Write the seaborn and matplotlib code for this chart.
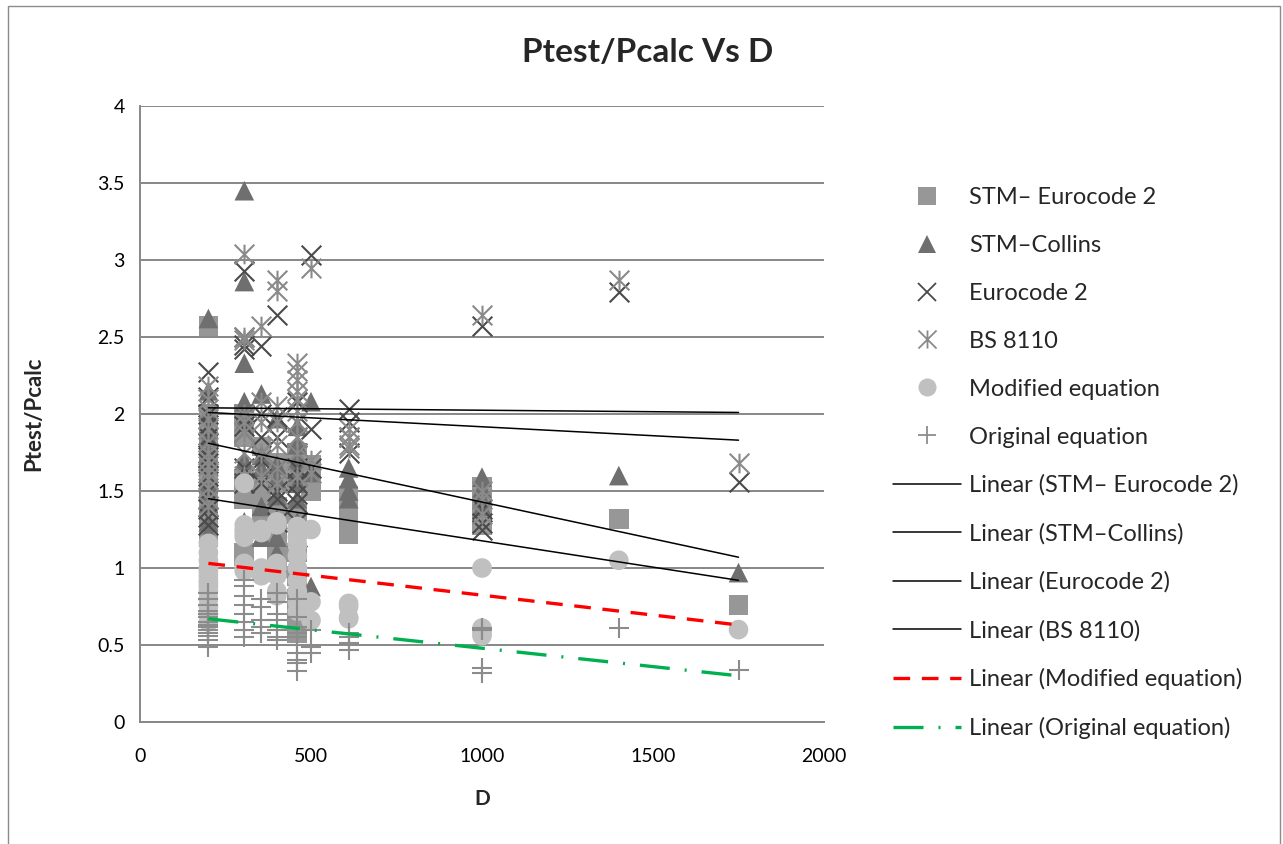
import numpy as np
import pandas as pd
import matplotlib.pyplot as plt
import seaborn as sns
from matplotlib.path import Path
from matplotlib.lines import Line2D
from matplotlib.patches import Rectangle

sns.set_theme(style="white")
plt.rcParams['font.family'] = ['Lato', 'DejaVu Sans']

# specimen depths D (shared x values for every method)
D = ([200] * 14 + [305] * 8 + [355] * 5 + [400] * 7 + [460] * 10
     + [500] * 3 + [610] * 4 + [1000] * 4 + [1400] + [1750])

stm_ec2 = [2.57, 2.0, 1.9, 1.8, 1.7, 1.62, 1.55, 1.48, 1.45, 1.38, 1.3, 1.25, 1.6, 1.2,
           1.58, 1.10, 1.52, 1.08, 2.0, 1.9, 1.85, 1.45,
           1.79, 1.45, 1.35, 1.52, 1.31,
           1.15, 1.28, 1.55, 1.4, 1.68, 1.0, 1.1,
           1.75, 1.65, 1.55, 1.35, 1.1, 0.95, 0.8, 0.7, 0.63, 0.58,
           1.67, 1.6, 1.5,
           1.47, 1.38, 1.3, 1.22,
           1.53, 1.45, 1.35, 1.28,
           1.32, 0.76]

stm_collins = [2.62, 2.15, 2.0, 1.9, 1.85, 1.75, 1.68, 1.6, 1.5, 1.42, 1.3, 1.23, 1.2, 1.55,
               3.45, 2.86, 2.33, 2.08, 2.0, 1.95, 1.3, 1.7,
               2.13, 1.73, 1.65, 1.4, 1.2,
               1.97, 1.67, 1.47, 1.58, 1.2, 1.32, 1.1,
               1.92, 1.8, 1.7, 1.62, 1.55, 1.45, 1.3, 1.15, 1.0, 0.9,
               2.08, 0.88, 1.62,
               1.65, 1.58, 1.5, 1.45,
               1.59, 1.52, 1.45, 1.4,
               1.60, 0.97]

eurocode2 = [2.27, 2.11, 2.0, 1.93, 1.85, 1.75, 1.68, 1.6, 1.5, 1.45, 1.38, 1.33, 1.28, 1.72,
             2.93, 2.5, 2.45, 2.42, 1.92, 1.88, 1.65, 1.55,
             2.44, 2.0, 1.85, 1.7, 1.55,
             2.64, 1.98, 1.85, 1.65, 1.5, 1.45, 1.3,
             2.08, 1.95, 1.85, 1.75, 1.65, 1.55, 1.48, 1.42, 1.3, 1.2,
             3.03, 1.65, 1.9,
             2.03, 1.95, 1.85, 1.75,
             2.57, 1.38, 1.29, 1.25,
             2.79, 1.56]

bs8110 = [2.18, 2.1, 2.03, 1.97, 1.9, 1.82, 1.75, 1.66, 1.58, 1.52, 1.45, 1.4, 1.62, 1.7,
          3.04, 2.5, 2.48, 2.0, 1.95, 1.88, 1.75, 1.6,
          2.57, 2.08, 1.95, 1.75, 1.6,
          2.87, 2.8, 2.05, 1.95, 1.8, 1.65, 1.55,
          2.33, 2.28, 2.22, 2.15, 2.1, 2.02, 1.95, 1.85, 1.75, 1.6,
          2.95, 1.62, 1.7,
          1.85, 1.8, 1.78, 1.9,
          2.64, 1.5, 1.45, 1.35,
          2.87, 1.68]

modified = [1.16, 1.1, 1.05, 1.0, 0.95, 0.92, 0.88, 0.85, 0.8, 0.75, 0.7, 0.65, 0.98, 0.9,
            1.55, 1.28, 1.2, 1.03, 1.0, 0.98, 1.22, 1.25,
            1.23, 0.97, 1.25, 0.95, 1.0,
            1.3, 1.28, 1.0, 0.95, 0.82, 0.85, 1.03,
            1.27, 1.2, 1.15, 1.08, 1.0, 0.92, 0.85, 0.78, 0.72, 1.25,
            1.25, 0.66, 0.78,
            0.77, 0.68, 0.75, 0.67,
            1.0, 0.61, 0.56, 0.58,
            1.05, 0.60]

original = [0.84, 0.8, 0.76, 0.72, 0.68, 0.65, 0.63, 0.6, 0.58, 0.56, 0.53, 0.49, 0.7, 0.62,
            0.92, 0.76, 0.55, 0.88, 0.7, 0.65, 0.6, 0.82,
            0.8, 0.62, 0.58, 0.75, 0.66,
            0.84, 0.66, 0.6, 0.53, 0.55, 0.7, 0.78,
            0.8, 0.68, 0.62, 0.58, 0.55, 0.5, 0.45, 0.4, 0.33, 0.38,
            0.45, 0.49, 0.6,
            0.51, 0.47, 0.55, 0.58,
            0.61, 0.35, 0.32, 0.6,
            0.61, 0.34]

# linear trendlines: value at D=200 and D=1750
trend_names = ["STM– Eurocode 2", "STM–Collins", "Eurocode 2", "BS 8110",
               "Modified equation", "Original equation"]
trend_start = [1.45, 1.81, 2.01, 2.04, 1.03, 0.67]
trend_end = [0.92, 1.07, 1.83, 2.01, 0.63, 0.30]

df = pd.DataFrame({"D": D, "STM– Eurocode 2": stm_ec2, "STM–Collins": stm_collins,
                   "Eurocode 2": eurocode2, "BS 8110": bs8110,
                   "Modified equation": modified, "Original equation": original})

# Excel-style asterisk: an X with a vertical bar through it
asterisk = Path([(-1, -1), (1, 1), (-1, 1), (1, -1), (0, -1), (0, 1)],
                [Path.MOVETO, Path.LINETO, Path.MOVETO, Path.LINETO, Path.MOVETO, Path.LINETO])

styles = {
    "STM– Eurocode 2": dict(marker="s", color="#979797", filled=True),
    "STM–Collins": dict(marker="^", color="#6f6f6f", filled=True),
    "Eurocode 2": dict(marker="x", color="#4a4a4a", filled=False),
    "BS 8110": dict(marker=asterisk, color="#8a8a8a", filled=False),
    "Modified equation": dict(marker="o", color="#c0c0c0", filled=True),
    "Original equation": dict(marker="+", color="#8c8c8c", filled=False),
}

fig = plt.figure(figsize=(12.83, 8.44), dpi=100)
ax = fig.add_axes([140 / 1283, 1 - 722 / 844, 684 / 1283, 616 / 844])

for name, st in styles.items():
    if st["filled"]:
        sns.scatterplot(data=df, x="D", y=name, ax=ax, marker=st["marker"], color=st["color"],
                        s=200, linewidth=0, edgecolor="none", legend=False, zorder=3)
    else:
        sns.scatterplot(data=df, x="D", y=name, ax=ax, marker=st["marker"], color=st["color"],
                        edgecolor=st["color"], s=200, linewidth=1.5, legend=False, zorder=3)

line_styles = ["-", "-", "-", "-", (0, (5, 3.5)), (0, (9, 4.5, 0.6, 4.5))]
line_colors = ["black"] * 4 + ["#ff0000", "#00b050"]
line_widths = [1.1] * 4 + [2.4, 2.4]
dmin, dmax = min(D), max(D)
for name, y0, y1, ls, c, lw in zip(trend_names, trend_start, trend_end, line_styles, line_colors, line_widths):
    ax.plot([dmin, dmax], [y0, y1], linestyle=ls, color=c, lw=lw, zorder=4)

ax.set_xlim(0, 2000)
ax.set_ylim(0, 4)
ax.set_xticks(np.arange(0, 2001, 500))
ax.set_yticks(np.arange(0, 4.01, 0.5))
ax.set_yticklabels(["0", "0.5", "1", "1.5", "2", "2.5", "3", "3.5", "4"])
ax.grid(axis="y", color="#878787", lw=1.4)
ax.grid(axis="x", visible=False)
ax.set_axisbelow(True)
for side in ["top", "right"]:
    ax.spines[side].set_visible(False)
for side in ["left", "bottom"]:
    ax.spines[side].set_color("#878787")
    ax.spines[side].set_linewidth(1.4)
ax.tick_params(axis="both", which="major", labelsize=14, colors="black", length=5,
               width=1.2, direction="out", pad=6)
ax.tick_params(axis="x", pad=14)
ax.tick_params(axis="both", color="#878787")
ax.set_xlabel("D", fontsize=15, fontweight="bold", labelpad=17)
ax.set_ylabel("Ptest/Pcalc", fontsize=16, fontweight="bold", labelpad=38)

fig.text(648 / 1283, 1 - 52 / 844, "Ptest/Pcalc Vs D", fontsize=24, fontweight="bold",
         ha="center", va="center")

handles = []
for name, st in styles.items():
    if st["filled"]:
        h = Line2D([], [], linestyle="none", marker=st["marker"], color=st["color"],
                   markersize=13, markeredgewidth=0)
    else:
        h = Line2D([], [], linestyle="none", marker=st["marker"], color=st["color"],
                   markersize=13, markeredgewidth=1.3)
    handles.append(h)
for ls, c, lw in zip(line_styles, line_colors, line_widths):
    handles.append(Line2D([], [], linestyle=ls, color=c, lw=lw))
labels = list(styles.keys()) + [f"Linear ({n})" for n in trend_names]

fig.legend(handles, labels, loc="upper left", bbox_to_anchor=(893 / 1283, 1 - 187 / 844),
           bbox_transform=fig.transFigure, frameon=False, fontsize=17, handlelength=2.88,
           handletextpad=0.34, labelspacing=1.14, borderpad=0, borderaxespad=0)

fig.add_artist(Rectangle((8 / 1283, -0.05), 1272 / 1283, 1.05 - 6 / 844, transform=fig.transFigure,
                         fill=False, edgecolor="#8c8c8c", lw=1.0, clip_on=False))

fig.savefig("out.png", dpi=100)
